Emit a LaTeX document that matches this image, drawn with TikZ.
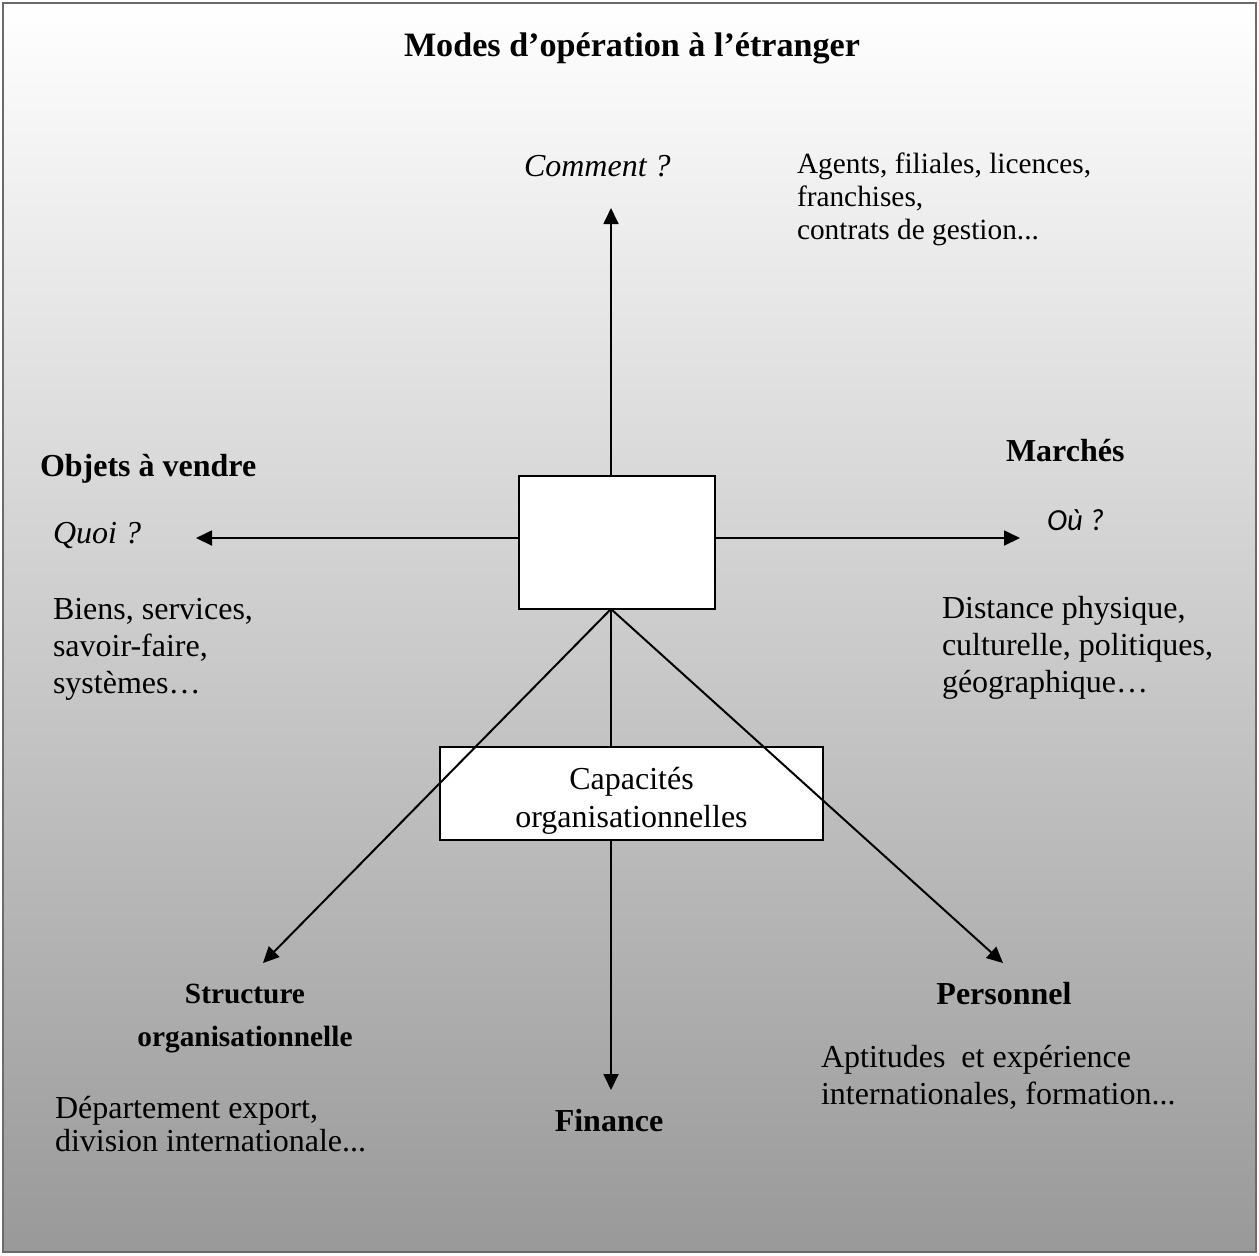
\documentclass[tikz,border=0pt]{standalone}
\usepackage{fontspec}
\setmainfont{Liberation Serif}
\newfontfamily\calibrifont{Carlito}
\usetikzlibrary{arrows.meta}
\newcommand\txtsz[1]{\fontsize{12}{#1}\selectfont}
\begin{document}
\begin{tikzpicture}[x=0.375pt,y=-0.375pt,
  every node/.style={inner sep=0pt,outer sep=0pt},
  label/.style={anchor=base west,font=\txtsz{13.7}},
  block/.style={anchor=north west,align=left},
  head/.style={anchor=base,font=\txtsz{13.7}\bfseries},
  frame/.style={draw,fill=white,line width=0.75pt},
  link/.style={line width=0.75pt},
  arrow/.style={link,-{Triangle[length=6pt,width=5.6pt]}}]

% page and shaded panel
\useasboundingbox (0,0) rectangle (1259,1255);
\fill[white] (0,0) rectangle (1259,1255);
\shade[top color=white,middle color=black!13,bottom color=black!40]
  (3,3) rectangle (1256,1252);
\draw[black!58,line width=1pt] (3,3) rectangle (1256,1252);

% boxes
\node[frame,minimum width=73.5pt,minimum height=49.9pt] (core) at (617,542.5) {};
\node[frame,minimum width=143.6pt,minimum height=34.9pt] (cap) at (631.5,793.5) {};
% base anchor of a two-line node sits on its last line
\node[anchor=base,font=\txtsz{14.2},align=center] (captxt) at (631.5,827)
  {Capacités\\organisationnelles};

% arrow ends
\coordinate (up) at (611,208);
\coordinate (left) at (196,538);
\coordinate (right) at (1020,538);
\coordinate (hub) at (611,609);
\coordinate (sw) at (263,963);
\coordinate (se) at (1003,963);
\coordinate (down) at (611,1090);

% connectors
\draw[arrow] (core.north -| up) -- (up);
\draw[arrow] (core.west |- left) -- (left);
\draw[arrow] (core.east |- right) -- (right);
\draw[link] (hub) -- (cap.north -| hub);
\draw[arrow] (cap.south -| hub) -- (down);
\draw[arrow] (hub) -- (sw);
\draw[arrow] (hub) -- (se);

% title
\node[anchor=base,font=\fontsize{12.8}{15}\selectfont\bfseries] (title) at (632,56)
  {Modes d’opération à l’étranger};

% how
\node[label,font=\txtsz{13.7}\itshape] (how) at (524,176) {Comment ?};
\node[block,font=\fontsize{11}{12.4}\selectfont] (howtxt) at (797,173-23.1)
  {\strut Agents, filiales, licences,\\franchises,\\contrats de gestion...};

% what
\node[label,font=\txtsz{13.7}\bfseries] (what) at (40,476) {Objets à vendre};
\node[label,font=\txtsz{13.7}\itshape] (whatq) at (53,543) {Quoi ?};
\node[block,font=\txtsz{13.7}] (whattxt) at (53,620-25.6)
  {\strut Biens, services,\\savoir-faire,\\systèmes…};

% where
\node[label,font=\txtsz{13.7}\bfseries] (where) at (1006,461) {Marchés};
\node[label,font=\fontsize{11.5}{14}\calibrifont\itshape] (whereq) at (1047,530) {Où ?};
\node[block,font=\txtsz{13.9}] (wheretxt) at (942,618-25.6)
  {\strut Distance physique,\\culturelle, politiques,\\géographique…};

% structure
\node[head,align=center,font=\fontsize{11}{16.1}\selectfont\bfseries] (struct) at (245,1046)
  {Structure\\organisationnelle};
\node[block,font=\txtsz{12.4}] (structtxt) at (55,1121-25.6)
  {\strut Département export,\\division internationale...};

% finance
\node[head] (fin) at (609,1131) {Finance};

% staff
\node[head] (staff) at (1004,1004) {Personnel};
\node[block,font=\txtsz{13.6}] (stafftxt) at (821,1068-25.6)
  {\strut Aptitudes\ \ et expérience\\internationales, formation...};

\end{tikzpicture}
\end{document}
